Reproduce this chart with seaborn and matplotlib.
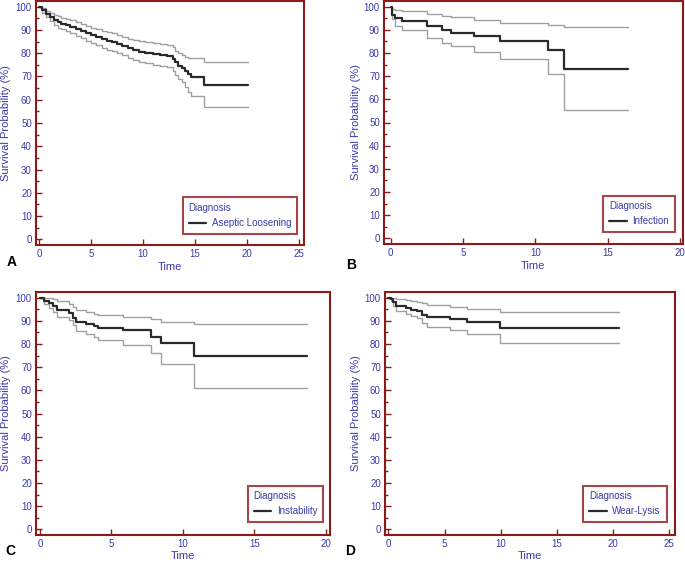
import matplotlib
matplotlib.use("Agg")
import matplotlib.pyplot as plt
import seaborn as sns
import pandas as pd
from matplotlib.ticker import MultipleLocator

sns.set_theme(style="white")
plt.rcParams['font.family'] = ['Liberation Sans', 'DejaVu Sans']

# ---------------- data ----------------
time_A = [0, 0.3, 0.6, 1.0, 1.4, 1.8, 2.1, 2.6, 3.0, 3.5, 4.0, 4.5, 5.0, 5.5, 6.0, 6.5, 7.0, 7.5,
          8.0, 8.5, 9.0, 9.6, 10.2, 11.0, 11.6, 12.3, 12.9, 13.1, 13.4, 13.7, 14.0, 14.3, 14.6, 15.9, 20.1]
surv_A = [100, 98.5, 97, 95.5, 94.3, 93.3, 92.5, 92, 91.3, 90.5, 89.5, 88.5, 87.7, 87, 86, 85.2, 84.8, 84,
          83, 82, 81.3, 80.6, 80.2, 79.6, 79, 78.8, 77.5, 76, 74.5, 73.5, 72.5, 71, 69.6, 66.5, 66.5]
upper_A = [100, 99.3, 98.3, 97.3, 96.5, 95.8, 95.2, 94.7, 94.2, 93.5, 92.5, 91.7, 91, 90.4, 89.6, 89, 88.7, 88,
           87, 86.2, 85.6, 85.2, 84.9, 84.3, 83.8, 83.6, 82.5, 81, 80, 79.2, 78.5, 78, 78, 76.2, 76.2]
lower_A = [100, 97.3, 95.5, 93.6, 92.2, 91, 90.2, 89.5, 88.5, 87.5, 86.5, 85.3, 84.4, 83.5, 82.4, 81.5, 80.8, 80,
           79, 78, 77.2, 76.3, 75.8, 75.1, 74.4, 74, 72.5, 70.5, 68.8, 67.5, 65.5, 63.5, 61.8, 57, 57]

time_B = [0, 0.1, 0.3, 0.8, 2.53, 3.57, 4.15, 5.8, 7.56, 10.85, 12.0, 16.4]
surv_B = [100, 96.3, 95.2, 93.7, 91.6, 90.1, 88.8, 87.3, 85.1, 81.2, 73.2, 73.2]
upper_B = [100, 99.0, 98.7, 98.3, 97.0, 96.0, 95.3, 94.1, 93.0, 92.0, 91.0, 91.0]
lower_B = [100, 94.5, 91.5, 89.8, 86.3, 84.4, 83.0, 80.5, 77.2, 70.9, 55.5, 55.5]

time_C = [0, 0.3, 0.65, 0.9, 1.2, 2.05, 2.3, 2.55, 3.2, 3.8, 4.05, 5.8, 7.75, 8.45, 10.8, 18.7]
surv_C = [100, 98.5, 97.5, 96.3, 94.5, 93.5, 91.2, 89.4, 88.8, 87.8, 86.8, 85.8, 83.2, 80.3, 74.8, 74.8]
upper_C = [100, 100, 99.6, 99.2, 98.5, 97.3, 96, 94.7, 93.7, 93, 92.5, 91.5, 90.7, 89.4, 88.5, 88.5]
lower_C = [100, 97.3, 95.3, 93.6, 91.5, 90.2, 88.0, 85.5, 84.2, 83.2, 81.6, 79.5, 76.2, 71.3, 60.9, 60.9]

time_D = [0, 0.2, 0.45, 0.65, 1.55, 2.0, 2.55, 3.0, 3.45, 5.5, 7.0, 9.95, 20.5]
surv_D = [100, 99.4, 98.3, 96.4, 95.6, 94.8, 94.0, 92.6, 91.5, 90.7, 89.3, 87.0, 87.0]
upper_D = [100, 100, 99.7, 99.3, 99, 98.7, 98.3, 97.5, 96.9, 95.9, 95.0, 93.7, 93.7]
lower_D = [100, 98.5, 96.5, 94.0, 93.0, 92.2, 91.0, 89.0, 87.2, 85.8, 84.3, 80.2, 80.2]

diagnoses = ["Aseptic Loosening", "Infection", "Instability", "Wear-Lysis"]
panel_letters = ["A", "B", "C", "D"]
xmax_ticks = [25, 20, 20, 25]

# ---------------- style ----------------
RED = "#8b1a1a"
BLUE = "#3a3aa8"
DARK = "#2a2a2a"
GRAY = "#a0a0a0"

fig = plt.figure(figsize=(6.85, 5.62), dpi=100)
W, H = 685, 562

def axrect(l, r, t, b):
    return [l / W, 1 - b / H, (r - l) / W, (b - t) / H]

rects = [axrect(36, 304, 1, 245), axrect(384, 683, 1, 244),
         axrect(36, 330, 292, 535), axrect(385, 675, 292, 535)]
xlims = [(-0.32, 25.5), (-0.45, 20.2), (-0.28, 20.3), (-0.3, 25.5)]
leg_anchor = [(0.975, 0.045), (0.973, 0.049), (0.977, 0.053), (0.971, 0.053)]
letter_pos = [(12, 262), (351, 265), (10, 551), (350, 551)]
time_pos = [(170, 267), (533, 266), (183, 556), (530, 556)]
ylab_x = [6, 356, 6, 356]

datasets = [(time_A, surv_A, upper_A, lower_A), (time_B, surv_B, upper_B, lower_B),
            (time_C, surv_C, upper_C, lower_C), (time_D, surv_D, upper_D, lower_D)]

for i, (t, s, u, lo) in enumerate(datasets):
    ax = fig.add_axes(rects[i])
    df = pd.DataFrame({"Time": t, "surv": s, "upper": u, "lower": lo})
    sns.lineplot(data=df, x="Time", y="upper", ax=ax, color=GRAY, lw=1.0,
                 drawstyle="steps-post", sort=False, errorbar=None, legend=False)
    sns.lineplot(data=df, x="Time", y="lower", ax=ax, color=GRAY, lw=1.0,
                 drawstyle="steps-post", sort=False, errorbar=None, legend=False)
    sns.lineplot(data=df, x="Time", y="surv", ax=ax, color=DARK, lw=1.6,
                 drawstyle="steps-post", sort=False, errorbar=None, label=diagnoses[i])
    ax.set_xlim(*xlims[i])
    ax.set_ylim(-2.4, 102.4)
    ax.set_xticks(range(0, xmax_ticks[i] + 1, 5))
    ax.set_yticks(range(0, 101, 10))
    ax.yaxis.set_minor_locator(MultipleLocator(5))
    ax.set_xlabel("")
    ax.set_ylabel("")
    for sp in ax.spines.values():
        sp.set_color(RED)
        sp.set_linewidth(1.5)
        sp.set_visible(True)
    ax.tick_params(axis="both", which="both", direction="in", color=RED,
                   labelcolor=BLUE, labelsize=7, width=1.0)
    ax.tick_params(axis="both", which="major", length=4, pad=3)
    ax.tick_params(axis="y", which="minor", length=2.5)
    ax.tick_params(axis="y", which="both", left=True)
    ax.tick_params(axis="x", which="both", bottom=True)
    ax.grid(False)
    ax.set_facecolor("white")
    leg = ax.legend(title="Diagnosis", loc="lower right", bbox_to_anchor=leg_anchor[i],
                    borderaxespad=0, fontsize=7, title_fontsize=7, frameon=True,
                    fancybox=False, handlelength=1.8, handletextpad=0.6,
                    borderpad=0.6, alignment="left")
    fr = leg.get_frame()
    fr.set_edgecolor(RED)
    fr.set_linewidth(1.5)
    fr.set_facecolor("white")
    for txt in leg.get_texts():
        txt.set_color(BLUE)
    leg.get_title().set_color(BLUE)

    lx, ly = letter_pos[i]
    fig.text(lx / W, 1 - ly / H, panel_letters[i], fontsize=10, fontweight="bold",
             color="black", ha="center", va="center")
    tx, ty = time_pos[i]
    fig.text(tx / W, 1 - ty / H, "Time", fontsize=8, color=BLUE, ha="center", va="center")
    cy = (rects[i][1] + rects[i][3] / 2)
    fig.text(ylab_x[i] / W, cy, "Survival Probability (%)", fontsize=8, color=BLUE,
             rotation=90, ha="center", va="center")

fig.savefig("out.png", dpi=100, facecolor="white")
